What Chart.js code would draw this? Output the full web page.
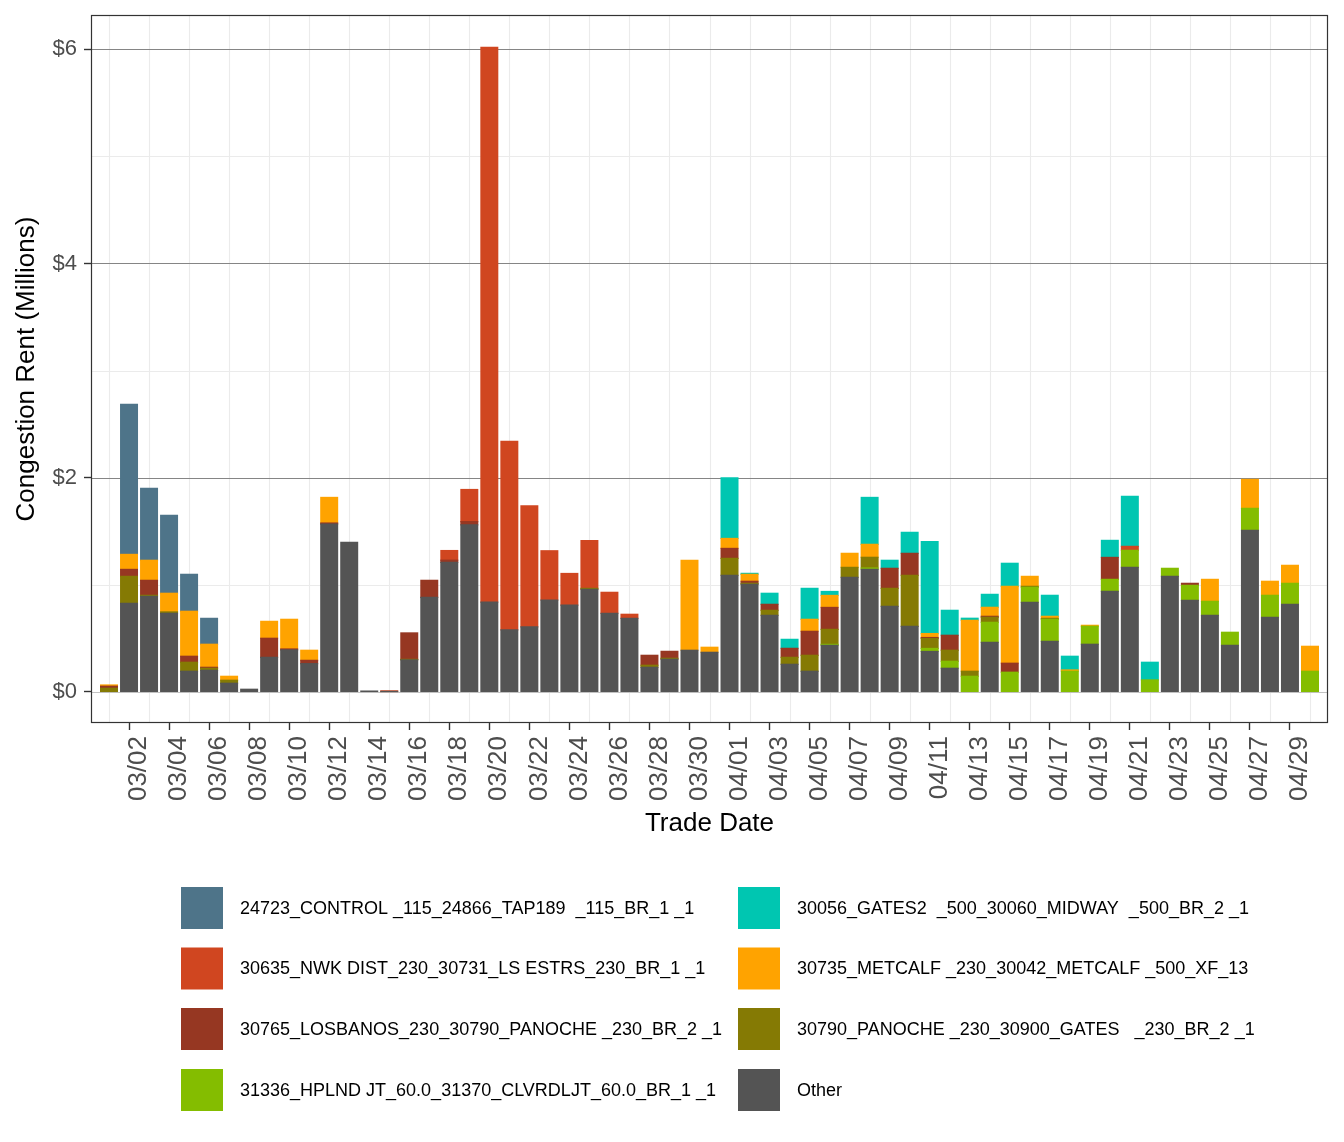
<!DOCTYPE html>
<html>
<head>
<meta charset="utf-8">
<script src="https://cdn.jsdelivr.net/npm/chart.js@4.4.1/dist/chart.umd.min.js"></script>
<style>
html,body{margin:0;padding:0;background:#ffffff;}
#wrap{width:1344px;height:1142px;position:relative;}
</style>
</head>
<body>
<div id="wrap"><canvas id="c" width="1344" height="1142"></canvas></div>
<script>
// ---- categories ----
const dates = [
 "03/01","03/02","03/03","03/04","03/05","03/06","03/07","03/08","03/09","03/10",
 "03/11","03/12","03/13","03/14","03/15","03/16","03/17","03/18","03/19","03/20",
 "03/21","03/22","03/23","03/24","03/25","03/26","03/27","03/28","03/29","03/30","03/31",
 "04/01","04/02","04/03","04/04","04/05","04/06","04/07","04/08","04/09","04/10",
 "04/11","04/12","04/13","04/14","04/15","04/16","04/17","04/18","04/19","04/20",
 "04/21","04/22","04/23","04/24","04/25","04/26","04/27","04/28","04/29","04/30"
];
// labelled x ticks (every other day, starting 03/02)
const xTickLabels = ["03/02","03/04","03/06","03/08","03/10","03/12","03/14","03/16","03/18","03/20",
 "03/22","03/24","03/26","03/28","03/30","04/01","04/03","04/05","04/07","04/09","04/11","04/13",
 "04/15","04/17","04/19","04/21","04/23","04/25","04/27","04/29"];
const yTickValues = [0,1,2,3,4,5,6];
const yTickLabels = {0:"$0",2:"$2",4:"$4",6:"$6"};

// ---- series values ($ millions) ----
const other = [
 0, 0.827, 0.893, 0.734, 0.193, 0.202, 0.081, 0.025, 0.323, 0.392,
 0.264, 1.568, 1.397, 0.008, 0.004, 0.299, 0.882, 1.21, 1.56, 0.838,
 0.579, 0.607, 0.858, 0.81, 0.958, 0.734, 0.687, 0.23, 0.305, 0.389, 0.37,
 1.089, 1.005, 0.715, 0.258, 0.193, 0.435, 1.07, 1.145, 0.799, 0.613,
 0.378, 0.221, 0, 0.463, 0, 0.837, 0.473, 0, 0.445, 0.939,
 1.163, 0, 1.079, 0.855, 0.715, 0.435, 1.509, 0.697, 0.818, 0
];
const s31336 = [
 0,0,0,0,0,0,0,0,0,0,
 0,0,0,0,0,0,0,0,0,0,
 0,0,0,0,0,0,0,0,0,0,0,
 0, 0, 0, 0, 0, 0.009, 0, 0.012, 0, 0,
 0.028, 0.065, 0.146, 0.187, 0.184, 0.14, 0.205, 0.193, 0.168, 0.112,
 0.159, 0.112, 0.075, 0.14, 0.131, 0.122, 0.205, 0.205, 0.196, 0.193
];
const s30790 = [
 0.034, 0.252, 0.009, 0.013, 0.084, 0.019, 0.028, 0, 0, 0,
 0, 0, 0, 0, 0, 0.005, 0, 0, 0, 0,
 0, 0, 0, 0, 0.009, 0, 0, 0.019, 0.009, 0, 0,
 0.158, 0.009, 0.047, 0.065, 0.149, 0.14, 0.093, 0.1, 0.168, 0.476,
 0.093, 0.103, 0.047, 0.047, 0, 0.009, 0.009, 0, 0, 0,
 0, 0, 0, 0, 0, 0, 0, 0, 0, 0
];
const s30765 = [
 0.019, 0.065, 0.14, 0, 0.056, 0.009, 0, 0, 0.178, 0.009,
 0.031, 0.009, 0, 0, 0, 0.247, 0.16, 0.02, 0.03, 0,
 0, 0, 0, 0, 0, 0, 0, 0.093, 0.065, 0, 0,
 0.093, 0.019, 0.056, 0.084, 0.224, 0.205, 0, 0, 0.187, 0.205,
 0.009, 0.14, 0, 0.009, 0.084, 0, 0, 0, 0, 0.205,
 0, 0, 0, 0.019, 0, 0, 0, 0, 0, 0
];
const s30735 = [
 0.012, 0.14, 0.187, 0.174, 0.42, 0.215, 0.037, 0, 0.158, 0.277,
 0.094, 0.239, 0, 0, 0, 0, 0, 0, 0, 0,
 0, 0, 0, 0, 0, 0, 0, 0, 0, 0.84, 0.047,
 0.093, 0.065, 0, 0, 0.112, 0.112, 0.131, 0.121, 0, 0,
 0.037, 0, 0.476, 0.084, 0.718, 0.093, 0.019, 0.012, 0.009, 0,
 0, 0, 0, 0, 0.205, 0, 0.27, 0.131, 0.168, 0.233
];
const s30635 = [
 0, 0, 0, 0, 0, 0, 0, 0, 0, 0,
 0, 0, 0, 0, 0.006, 0, 0, 0.09, 0.30, 5.18,
 1.76, 1.13, 0.46, 0.296, 0.446, 0.196, 0.038, 0, 0, 0, 0,
 0, 0, 0, 0, 0, 0, 0, 0, 0, 0,
 0, 0, 0, 0, 0, 0, 0, 0, 0, 0,
 0.037, 0, 0, 0, 0, 0, 0, 0, 0, 0
];
const s30056 = [
 0,0,0,0,0,0,0,0,0,0,
 0,0,0,0,0,0,0,0,0,0,
 0,0,0,0,0,0,0,0,0,0,0,
 0.566, 0.009, 0.103, 0.084, 0.289, 0.037, 0, 0.438, 0.075, 0.196,
 0.859, 0.233, 0.019, 0.121, 0.215, 0, 0.196, 0.128, 0, 0.159,
 0.467, 0.165, 0, 0, 0, 0, 0, 0, 0, 0
];
const s24723 = [
 0, 1.40, 0.672, 0.728, 0.345, 0.242, 0, 0, 0, 0,
 0,0,0,0,0,0,0,0,0,0,
 0,0,0,0,0,0,0,0,0,0,0,
 0,0,0,0,0,0,0,0,0,0,
 0,0,0,0,0,0,0,0,0,0,
 0,0,0,0,0,0,0,0,0,0
];

// ---- series names / colours (stack order bottom -> top) ----
const seriesNames = [
 "Other",
 "31336_HPLND JT_60.0_31370_CLVRDLJT_60.0_BR_1 _1",
 "30790_PANOCHE _230_30900_GATES   _230_BR_2 _1",
 "30765_LOSBANOS_230_30790_PANOCHE _230_BR_2 _1",
 "30735_METCALF _230_30042_METCALF _500_XF_13",
 "30635_NWK DIST_230_30731_LS ESTRS_230_BR_1 _1",
 "30056_GATES2  _500_30060_MIDWAY  _500_BR_2 _1",
 "24723_CONTROL _115_24866_TAP189  _115_BR_1 _1"
];
const seriesValues = [other, s31336, s30790, s30765, s30735, s30635, s30056, s24723];
const seriesColors = ["#545454","#84BD00","#857A04","#963722","#FFA300","#D04620","#00C6B1","#4E7489"];
// legend order (column-major, 4 rows x 2 columns)
const legendOrder = [7, 5, 3, 1, 6, 4, 2, 0];

const FONT = '"Liberation Sans", Arial, Helvetica, sans-serif';

const datasets = seriesValues.map((vals, k) => ({
  label: seriesNames[k],
  data: vals.map((v, i) => ({x: i, y: v})).filter(d => d.y > 0),
  backgroundColor: seriesColors[k],
  borderWidth: 0,
  inflateAmount: 0.6,
  barPercentage: 0.839,
  categoryPercentage: 1.0
}));

const xTickIdx = xTickLabels.map(l => dates.indexOf(l));

const gridPlugin = {
  id: 'ggGrid',
  beforeDatasetsDraw(chart) {
    const ctx = chart.ctx, xs = chart.scales.x, ys = chart.scales.y, ca = chart.chartArea;
    ctx.save();
    ctx.beginPath(); ctx.rect(ca.left, ca.top, ca.right - ca.left, ca.bottom - ca.top); ctx.clip();
    // minor vertical lines (between labelled ticks)
    ctx.strokeStyle = '#ebebeb'; ctx.lineWidth = 1.1;
    for (let i = 0; i < dates.length; i += 2) {
      const px = Math.round(xs.getPixelForValue(i)) + 0.5;
      ctx.beginPath(); ctx.moveTo(px, ca.top); ctx.lineTo(px, ca.bottom); ctx.stroke();
    }
    // minor horizontal
    yTickValues.filter(v => v % 2 === 1).forEach(v => {
      const py = Math.round(ys.getPixelForValue(v)) + 0.5;
      ctx.beginPath(); ctx.moveTo(ca.left, py); ctx.lineTo(ca.right, py); ctx.stroke();
    });
    // major horizontal
    yTickValues.filter(v => v % 2 === 0).forEach(v => {
      const py = Math.round(ys.getPixelForValue(v)) + 0.5;
      ctx.strokeStyle = v === 0 ? '#c2c2c2' : '#858585';
      ctx.lineWidth = 1.2;
      ctx.beginPath(); ctx.moveTo(ca.left, py); ctx.lineTo(ca.right, py); ctx.stroke();
    });
    ctx.restore();
  },
  afterDatasetsDraw(chart) {
    const ctx = chart.ctx, ca = chart.chartArea;
    ctx.save();
    ctx.strokeStyle = '#333333'; ctx.lineWidth = 1.2;
    ctx.strokeRect(ca.left + 0.5, ca.top + 0.5, ca.right - ca.left - 1, ca.bottom - ca.top - 1);
    ctx.restore();
  },
  afterDraw(chart) {
    const ctx = chart.ctx;
    const colKeyX = [181, 738], colTextX = [240, 797];
    const rowY = [908, 968.5, 1029, 1090];
    const key = 42;
    ctx.save();
    ctx.font = '18px ' + FONT;
    ctx.textBaseline = 'middle';
    ctx.textAlign = 'left';
    legendOrder.forEach((k, n) => {
      const col = Math.floor(n / 4), row = n % 4;
      ctx.fillStyle = seriesColors[k];
      ctx.fillRect(colKeyX[col], rowY[row] - key / 2, key, key);
      ctx.fillStyle = '#000000';
      ctx.fillText(seriesNames[k], colTextX[col], rowY[row] + 1);
    });
    ctx.restore();
  }
};

new Chart(document.getElementById('c'), {
  type: 'bar',
  data: { datasets },
  plugins: [gridPlugin],
  options: {
    responsive: false,
    animation: false,
    devicePixelRatio: 1,
    layout: { padding: { left: 0, top: 15, right: 16, bottom: 299 } },
    plugins: { legend: { display: false }, tooltip: { enabled: false } },
    scales: {
      x: {
        type: 'linear', stacked: true, min: -0.9, max: 60.9, offset: false,
        grid: { display: true, offset: false, drawOnChartArea: false, drawTicks: true,
                tickLength: 7, tickColor: '#333333', tickWidth: 1.4 },
        border: { display: false },
        afterBuildTicks: s => { s.ticks = xTickIdx.map(v => ({ value: v })); },
        ticks: { autoSkip: false, maxRotation: 90, minRotation: 90, padding: 6, labelOffset: 10,
                 color: '#4d4d4d', font: { family: FONT, size: 26 },
                 callback: v => dates[v] },
        title: { display: true, text: 'Trade Date', color: '#000000',
                 font: { family: FONT, size: 26 }, padding: { top: 0, bottom: 4 } },
        afterFit: s => { s.height = 120; s.paddingLeft = 0; s.paddingRight = 0; }
      },
      y: {
        stacked: true, min: -0.29, max: 6.32,
        afterBuildTicks: s => { s.ticks = yTickValues.map(v => ({ value: v })); },
        grid: { display: true, drawOnChartArea: false, drawTicks: true, tickLength: 7, tickWidth: 1.4,
                tickColor: c => (c.tick && yTickLabels[c.tick.value] !== undefined) ? '#333333' : 'rgba(0,0,0,0)' },
        border: { display: false },
        ticks: { padding: 7, color: '#4d4d4d', font: { family: FONT, size: 22 },
                 callback: v => (yTickLabels[v] !== undefined ? yTickLabels[v] : '') },
        title: { display: true, text: 'Congestion Rent (Millions)', color: '#000000',
                 font: { family: FONT, size: 26 }, padding: { top: 11, bottom: 0 } },
        afterFit: s => { s.width = 91; s.paddingTop = 0; s.paddingBottom = 0; }
      }
    }
  }
});
</script>
</body>
</html>
